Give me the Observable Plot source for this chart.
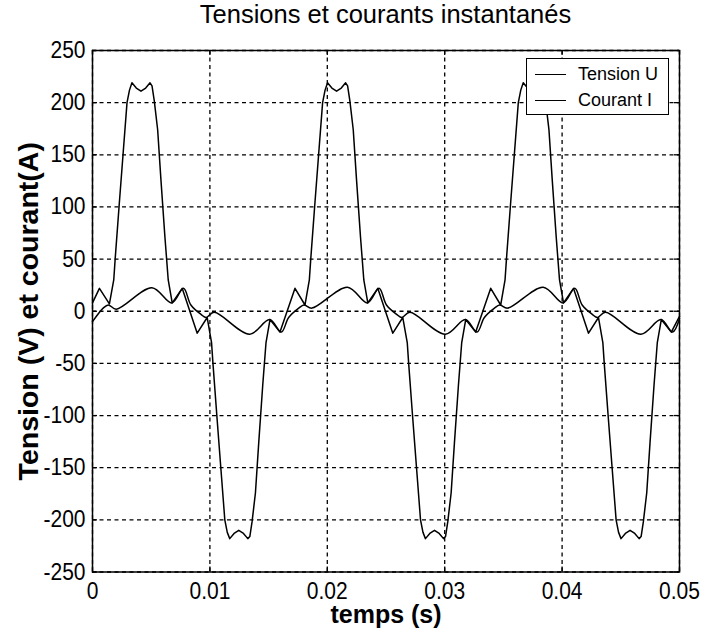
<!DOCTYPE html>
<html>
<head>
<meta charset="utf-8">
<script src="https://cdn.jsdelivr.net/npm/d3@7"></script>
<script src="https://cdn.jsdelivr.net/npm/@observablehq/plot@0.6"></script>
<style>
  body { margin: 0; background: #fff; }
  #wrap { position: relative; width: 705px; height: 637px; background: #fff; }
  #title { height: 40px; line-height: 43px; padding-left: 92px; width: 587px; text-align: center;
           font: 25.5px "Liberation Sans", Arial, sans-serif; color: #000; }
  #legend { position: absolute; left: 526px; top: 58px; width: 141px; height: 55px;
            border: 1.5px solid #000; background: #fff;
            font: 18px "Liberation Sans", Arial, sans-serif; color: #000; }
  #legend .row { position: absolute; left: 0; height: 24px; line-height: 24px; white-space: nowrap; }
  #legend .sw { position: absolute; left: 8px; top: 12px; width: 31px; border-top: 1.5px solid #000; }
  #legend .lb { position: absolute; left: 51px; top: 0; }
</style>
</head>
<body>
<div id="wrap">
  <div id="title">Tensions et courants instantanés</div>
  <div id="chart"></div>
  <div id="legend"></div>
</div>
<script>
// ---- data ----
const title = "Tensions et courants instantanés";
const xLabel = "temps (s)";
const yLabel = "Tension (V) et courant(A)";
const seriesNames = ["Tension U", "Courant I"];

const xTicks = [0, 0.01, 0.02, 0.03, 0.04, 0.05];
const xTickLabels = ["0", "0.01", "0.02", "0.03", "0.04", "0.05"];
const yTicks = [-250, -200, -150, -100, -50, 0, 50, 100, 150, 200, 250];
const yTickLabels = ["-250", "-200", "-150", "-100", "-50", "0", "50", "100", "150", "200", "250"];

// Tension U : time (s) and value (V)
const tensionT = [
  0, 0.00059, 0.00144, 0.00181, 0.00193, 0.00226, 0.00260, 0.00294, 0.00315, 0.00336, 0.00373, 0.00413,
  0.00453, 0.00490, 0.00507, 0.00526, 0.00555, 0.00583, 0.00617, 0.00645, 0.00679, 0.00764, 0.00892, 0.00977,
  0.01014, 0.01026, 0.01059, 0.01093, 0.01127, 0.01148, 0.01169, 0.01206, 0.01246, 0.01286, 0.01323, 0.01340,
  0.01359, 0.01388, 0.01416, 0.01450, 0.01478, 0.01512, 0.01597, 0.01725, 0.01810,
  0.01847, 0.01859, 0.01892, 0.01926, 0.01960, 0.01981, 0.02002, 0.02039, 0.02079, 0.02119, 0.02156, 0.02173,
  0.02192, 0.02221, 0.02249, 0.02283, 0.02311, 0.02345, 0.02430, 0.02558, 0.02643,
  0.02681, 0.02693, 0.02726, 0.02760, 0.02794, 0.02815, 0.02836, 0.02873, 0.02913, 0.02953, 0.02990, 0.03007,
  0.03026, 0.03055, 0.03083, 0.03117, 0.03145, 0.03179, 0.03264, 0.03392, 0.03477,
  0.03514, 0.03526, 0.03559, 0.03593, 0.03627, 0.03648, 0.03669, 0.03706, 0.03746, 0.03786, 0.03823, 0.03840,
  0.03859, 0.03888, 0.03916, 0.03950, 0.03978, 0.04012, 0.04097, 0.04225, 0.04310,
  0.04347, 0.04359, 0.04392, 0.04426, 0.04460, 0.04481, 0.04502, 0.04539, 0.04579, 0.04619, 0.04656, 0.04673,
  0.04692, 0.04721, 0.04749, 0.04783, 0.04811, 0.04845, 0.04930, 0.05000
];
const tensionV = [
  8, 22, 7, 30, 50, 100, 150, 200, 212, 219, 214, 211,
  214, 219, 216, 202, 174, 126, 71, 30, 8, 22, -21, -6,
  -30, -50, -100, -150, -200, -212, -218, -213, -210, -213, -218, -216,
  -202, -174, -126, -71, -30, -8, -20, 22, 6,
  30, 50, 100, 150, 200, 212, 219, 214, 211, 214, 219, 216,
  202, 174, 126, 71, 30, 8, 22, -21, -6,
  -30, -50, -100, -150, -200, -212, -218, -213, -210, -213, -218, -216,
  -202, -174, -126, -71, -30, -8, -20, 22, 6,
  30, 50, 100, 150, 200, 212, 219, 214, 211, 214, 219, 216,
  202, 174, 126, 71, 30, 8, 22, -21, -6,
  -30, -50, -100, -150, -200, -212, -218, -213, -210, -213, -218, -216,
  -202, -174, -126, -71, -30, -8, -20, -5
];

// Courant I : time (s) and value (A)
const courantT = [
  0, 0.00091, 0.00135, 0.00203, 0.00506, 0.00676, 0.00775, 0.00838,
  0.00924, 0.00968, 0.01036, 0.01339, 0.01509, 0.01608, 0.01671,
  0.01757, 0.01801, 0.01869, 0.02172, 0.02342, 0.02441, 0.02504,
  0.02591, 0.02635, 0.02703, 0.03006, 0.03176, 0.03275, 0.03338,
  0.03424, 0.03468, 0.03536, 0.03839, 0.04009, 0.04108, 0.04171,
  0.04257, 0.04301, 0.04369, 0.04672, 0.04842, 0.04941, 0.05000
];
const courantV = [
  -10, 3, 6, 2, 22.5, 8, 22, 6,
  -3, -6, -1, -22, -8, -20, -6,
  3, 6, 3, 23, 8, 22, 6,
  -3, -6, -1, -22, -8, -20, -6,
  3, 6, 3, 23, 8, 22, 6,
  -3, -6, -1, -22, -8, -20, -7
];

// ---- build tables ----
const tension = tensionT.map((t, i) => ({t, v: tensionV[i]}));
const courant = courantT.map((t, i) => ({t, v: courantV[i]}));

const regular = '"Liberation Sans", Arial, sans-serif';
const inwardTick = 5;

const chart = Plot.plot({
  width: 705,
  height: 597,
  marginTop: 10,
  marginBottom: 65.5,
  marginLeft: 92,
  marginRight: 26,
  x: {domain: [0, 0.05]},
  y: {domain: [-250, 250]},
  style: {fontFamily: regular, color: "#000", background: "#fff", overflow: "visible"},
  marks: [
    Plot.gridX(xTicks, {stroke: "#000", strokeOpacity: 1, strokeWidth: 1.3, strokeDasharray: "4,3.5"}),
    Plot.gridY(yTicks, {stroke: "#000", strokeOpacity: 1, strokeWidth: 1.3, strokeDasharray: "4,3.5"}),
    // inward ticks on the four sides (MATLAB box style)
    Plot.tickX(xTicks, {x: (d) => d, stroke: "#000", strokeWidth: 1.3, insetTop: 521.5 - inwardTick}),
    Plot.tickX(xTicks, {x: (d) => d, stroke: "#000", strokeWidth: 1.3, insetBottom: 521.5 - inwardTick}),
    Plot.tickY(yTicks, {y: (d) => d, stroke: "#000", strokeWidth: 1.3, insetRight: 587 - inwardTick}),
    Plot.tickY(yTicks, {y: (d) => d, stroke: "#000", strokeWidth: 1.3, insetLeft: 587 - inwardTick}),
    Plot.axisX(xTicks, {tickSize: 0, tickPadding: 10, fontSize: 21, label: null,
      tickFormat: (d) => xTickLabels[xTicks.indexOf(d)]}),
    Plot.axisY(yTicks, {tickSize: 0, tickPadding: 7, fontSize: 21, label: null,
      tickFormat: (d) => yTickLabels[yTicks.indexOf(d)]}),
    Plot.line(tension, {x: "t", y: "v", stroke: "#000", strokeWidth: 1.5}),
    Plot.line(courant, {x: "t", y: "v", stroke: "#000", strokeWidth: 1.5, curve: "catmull-rom"}),
    Plot.frame({stroke: "#000", strokeWidth: 1.5}),
    Plot.text([xLabel], {text: (d) => d, frameAnchor: "bottom", dy: 51, fontSize: 25,
      fontWeight: "bold", fontFamily: regular}),
    Plot.text([yLabel], {text: (d) => d, frameAnchor: "left", dx: -64, rotate: -90, fontSize: 28.5,
      textAnchor: "middle", fontWeight: "bold", fontFamily: regular})
  ]
});
document.getElementById("chart").appendChild(chart);
document.getElementById("title").textContent = title;

// the reference's tick labels are tall and narrow: keep the 21px width, draw taller glyphs
chart.querySelectorAll('g[aria-label="x-axis tick label"] text, g[aria-label="y-axis tick label"] text')
  .forEach((el) => {
    const w = el.getComputedTextLength();
    el.setAttribute("font-size", "23.5");
    el.style.fontSize = "23.5px";
    el.setAttribute("textLength", w);
    el.setAttribute("lengthAdjust", "spacingAndGlyphs");
  });

const legend = document.getElementById("legend");
seriesNames.forEach((name, i) => {
  const row = document.createElement("div");
  row.className = "row";
  row.style.top = (3 + i * 26) + "px";
  row.style.width = "141px";
  row.innerHTML = '<div class="sw"></div><div class="lb"></div>';
  row.querySelector(".lb").textContent = name;
  legend.appendChild(row);
});
</script>
</body>
</html>
